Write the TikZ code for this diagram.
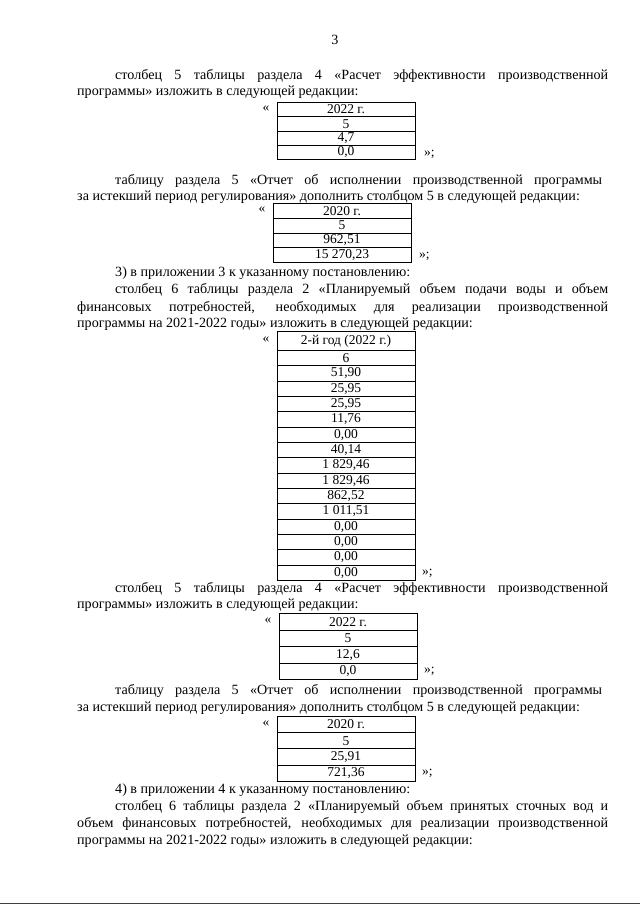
\documentclass[tikz,border=0pt]{standalone}
\usepackage{fontspec}
\setmainfont{Liberation Serif}
\newcommand{\justline}[2]{\makebox[#1pt][s]{#2}}
\begin{document}
\begin{tikzpicture}[x=1pt,y=-1pt,
  txt/.style={anchor=base west,inner sep=0pt,font=\fontsize{14.1}{17}\selectfont},
  cell/.style={draw,line width=0.8pt,anchor=north,minimum width=138pt,inner sep=0pt,font=\fontsize{13.5}{15}\selectfont},
  qmark/.style={inner sep=0pt,font=\fontsize{13.5}{15}\selectfont}]
\useasboundingbox (0,0) rectangle (640,905);
%\draw[help lines] (0,0) grid[step=20] (640,905);
\node[inner sep=0pt,font=\fontsize{14.1}{17}\selectfont] (pagenum) at (335,40) {3};

% section 2, table 4
\node[txt] (p1a) at (115,79) {\justline{493}{столбец 5 таблицы раздела 4 «Расчет эффективности производственной}};
\node[txt] (p1b) at (77,95) {программы» изложить в следующей редакции:};
\foreach \v [count=\i from 0] in {{2022 г.},{5},{4,7},{0,0}}
  \node[cell,minimum height=14.3pt] (ta\i) at (346,102+14.3*\i) {\v};
\node[qmark] (taopen) at (266,109) {«};
\node[qmark,anchor=west] (taclose) at (424,154) {»;};

% section 2, table 5
\node[txt] (p2a) at (115,184) {\justline{487}{таблицу раздела 5 «Отчет об исполнении производственной программы}};
\node[txt] (p2b) at (77,200) {за истекший период регулирования» дополнить столбцом 5 в следующей редакции:};
\foreach \v [count=\i from 0] in {{2020 г.},{5},{962,51},{15 270,23}}
  \node[cell,minimum height=14.8pt] (tb\i) at (342,203+14.8*\i) {\v};
\node[qmark] (tbopen) at (262,210) {«};
\node[qmark,anchor=west] (tbclose) at (419,256) {»;};

% appendix 3
\node[txt] (p3a) at (115,276) {3) в приложении 3 к указанному постановлению:};
\node[txt] (p3b) at (115,293) {\justline{493}{столбец 6 таблицы раздела 2 «Планируемый объем подачи воды и объем}};
\node[txt] (p3c) at (77,311) {\justline{531}{финансовых потребностей, необходимых для реализации производственной}};
\node[txt] (p3d) at (77,327) {программы на 2021-2022 годы» изложить в следующей редакции:};
\node[cell,minimum height=19pt] (tchead) at (346,331) {2-й год (2022 г.)};
\foreach \v [count=\i from 0] in {{6},{51,90},{25,95},{25,95},{11,76},{0,00},{40,14},{1 829,46},{1 829,46},{862,52},{1 011,51},{0,00},{0,00},{0,00},{0,00}}
  \node[cell,minimum height=15.33pt] (tc\i) at (346,350+15.33*\i) {\v};
\node[qmark] (tcopen) at (266,340) {«};
\node[qmark,anchor=west] (tcclose) at (422,573) {»;};

% section 4, table 4
\node[txt] (p4a) at (115,592) {\justline{493}{столбец 5 таблицы раздела 4 «Расчет эффективности производственной}};
\node[txt] (p4b) at (77,608) {программы» изложить в следующей редакции:};
\foreach \v [count=\i from 0] in {{2022 г.},{5},{12,6},{0,0}}
  \node[cell,minimum height=16.6pt] (td\i) at (348,613+16.6*\i) {\v};
\node[qmark] (tdopen) at (268,621) {«};
\node[qmark,anchor=west] (tdclose) at (424,671) {»;};

% section 5, table 5
\node[txt] (p5a) at (115,694) {\justline{487}{таблицу раздела 5 «Отчет об исполнении производственной программы}};
\node[txt] (p5b) at (77,711) {за истекший период регулирования» дополнить столбцом 5 в следующей редакции:};
\foreach \v [count=\i from 0] in {{2020 г.},{5},{25,91},{721,36}}
  \node[cell,minimum height=16.2pt] (te\i) at (346,716+16.2*\i) {\v};
\node[qmark] (teopen) at (266,724) {«};
\node[qmark,anchor=west] (teclose) at (422,773) {»;};

% appendix 4
\node[txt] (p6a) at (115,793) {4) в приложении 4 к указанному постановлению:};
\node[txt] (p6b) at (115,810) {\justline{493}{столбец 6 таблицы раздела 2 «Планируемый объем принятых сточных вод и}};
\node[txt] (p6c) at (77,827) {\justline{531}{объем финансовых потребностей, необходимых для реализации производственной}};
\node[txt] (p6d) at (77,844) {программы на 2021-2022 годы» изложить в следующей редакции:};

% scan edge
\draw[line width=1.2pt,black!75] (0,903.5) -- (640,903.5);
\end{tikzpicture}
\end{document}
